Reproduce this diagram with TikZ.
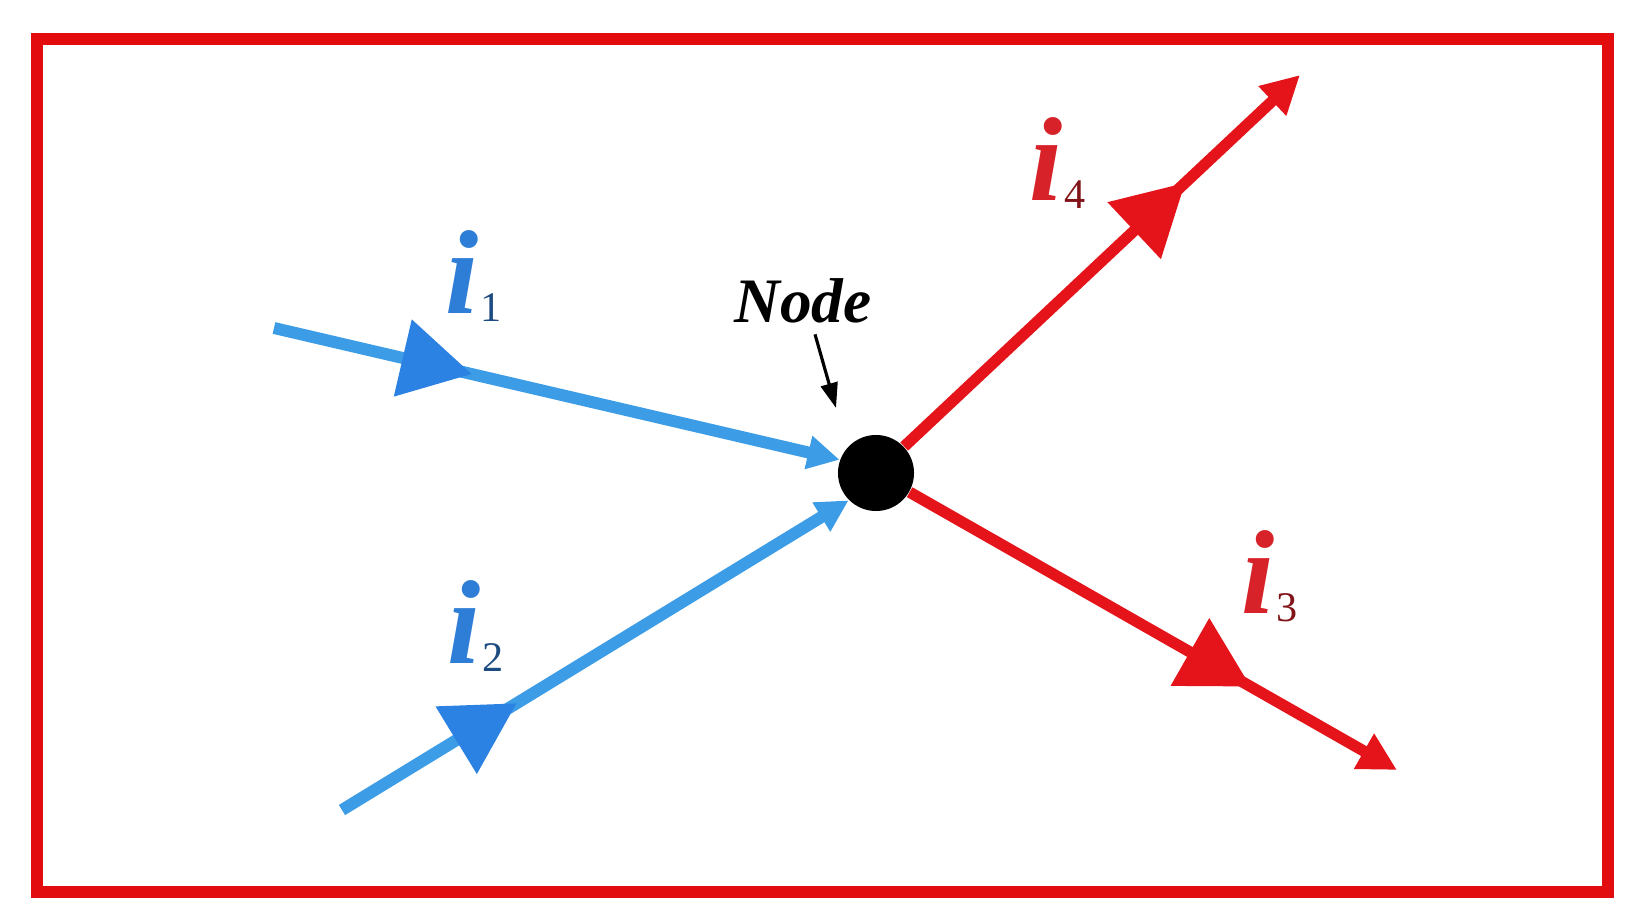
\documentclass[tikz,border=0pt]{standalone}
\usepackage{fontspec}
\setmainfont{Liberation Serif}
\usetikzlibrary{arrows.meta,decorations.markings}

\definecolor{framered}{RGB}{226,12,14}
\definecolor{wireblue}{RGB}{60,156,230}
\definecolor{triblue}{RGB}{44,130,226}
\definecolor{wirered}{RGB}{228,20,26}
\definecolor{labelblue}{RGB}{46,125,214}
\definecolor{labelred}{RGB}{214,34,40}

\newcommand{\curlabel}[2]{i\kern0.5pt\raisebox{-2.5pt}{\fontsize{12}{14}\selectfont\upshape\mdseries\color{#1!60!black}#2}}

\begin{document}
\begin{tikzpicture}[
x=0.01cm, y=-0.01cm,
frame/.style={draw=framered, line width=3.2pt},
junction/.style={circle, fill=black, minimum size=0.76cm, inner sep=0pt},
inwire/.style={
draw=wireblue, line width=3.4pt,
-{Triangle[length=0.32cm,width=0.32cm]},
postaction={decorate},
decoration={markings, mark=at position #1 with
{\arrow{Triangle[length=0.71cm,width=0.76cm,color=triblue]}}}
},
outwire/.style={
draw=wirered, line width=3.2pt,
-{Triangle[length=0.38cm,width=0.38cm]},
postaction={decorate},
decoration={markings, mark=at position #1 with
{\arrow{Triangle[length=0.7cm,width=0.75cm,color=wirered]}}}
},
cur/.style={inner sep=0pt, anchor=base,
font=\fontsize{34}{40}\selectfont\bfseries\itshape},
pointer/.style={draw=black, line width=0.9pt,
-{Triangle[length=0.25cm,width=0.17cm]}}
]

% =======================
% FRAME
% =======================

\useasboundingbox (0,0) rectangle (1632,924);
\draw[frame] (37,39) rectangle (1608,892);

% =======================
% NODE AND WIRE ENDS
% =======================

\node[junction] (junc) at (876,473) {};

\coordinate (s1) at (274,328);
\coordinate (s2) at (342,810);
\coordinate (e4) at (1300,75);
\coordinate (e3) at (1397,770);

% =======================
% WIRES
% =======================

\draw[inwire=0.35] (s1) -- (junc.160);
\draw[inwire=0.345] (s2) -- (junc.225);

\draw[outwire=0.71] (junc) -- (e4);
\draw[outwire=0.70] (junc) -- (e3);

% =======================
% LABELS
% =======================

\node[cur, text=labelblue] (i1) at (474,313) {\curlabel{labelblue}{1}};
\node[cur, text=labelblue] (i2) at (476,663) {\curlabel{labelblue}{2}};
\node[cur, text=labelred] (i4) at (1058,200) {\curlabel{labelred}{4}};
\node[cur, text=labelred] (i3) at (1270,613) {\curlabel{labelred}{3}};

\node[inner sep=0pt, anchor=base, font=\fontsize{18}{22}\selectfont\bfseries\itshape]
(nodelbl) at (803,322) {Node};
\coordinate (ptr) at (836,408);
\draw[pointer] ([shift={(12,11)}]nodelbl.south) -- (ptr);

\end{tikzpicture}
\end{document}
